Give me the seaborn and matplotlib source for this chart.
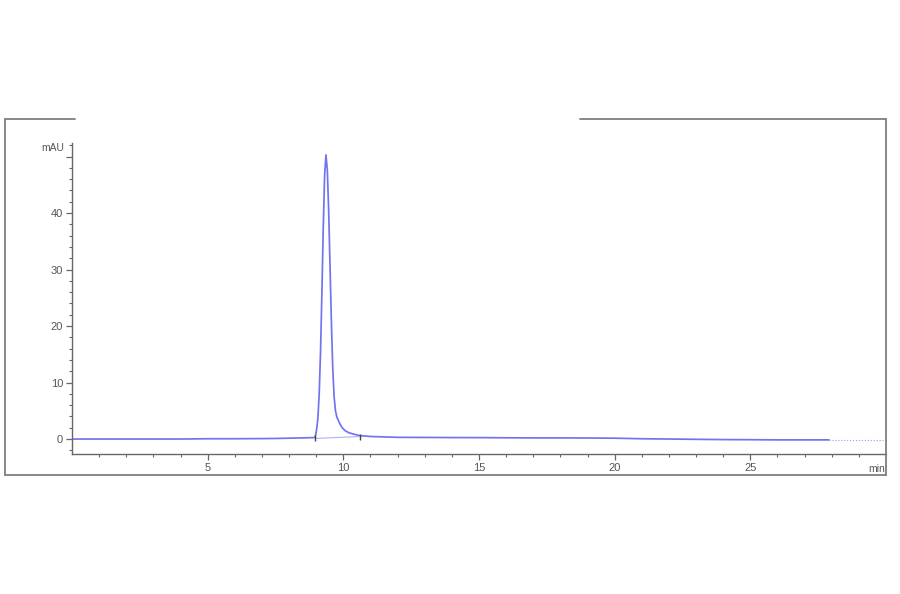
import matplotlib
matplotlib.use("Agg")
import matplotlib.pyplot as plt
from matplotlib.lines import Line2D
from matplotlib.transforms import Bbox, TransformedBbox
import seaborn as sns
import pandas as pd
import numpy as np

# ---- data ----
time_min = [0.0, 1.0, 2.0, 3.0, 4.0, 5.0, 6.0, 7.0, 7.5, 8.0, 8.5, 8.9, 8.96,
            9.01, 9.06, 9.11, 9.16, 9.21, 9.26, 9.31, 9.36, 9.41, 9.46, 9.51,
            9.56, 9.61, 9.66, 9.71, 9.76, 9.86, 9.96, 10.06, 10.21, 10.36,
            10.61, 11.0, 12.0, 13.0, 14.0, 15.0, 16.0, 17.0, 18.0, 19.0, 20.0,
            20.5, 21.0, 22.0, 23.0, 24.0, 25.0, 26.0, 27.0, 27.9]
signal_mau = [0.0, 0.0, 0.0, 0.0, 0.0, 0.05, 0.05, 0.08, 0.1, 0.15, 0.2, 0.25, 0.3,
              1.5, 3.5, 7.9, 15.4, 25.8, 37.4, 46.7, 50.3, 47.6, 40.3, 30.5,
              20.7, 12.5, 7.5, 5.0, 3.9, 2.8, 2.0, 1.5, 1.1, 0.9,
              0.6, 0.45, 0.3, 0.28, 0.26, 0.25, 0.22, 0.2, 0.2, 0.18, 0.15,
              0.1, 0.05, 0.0, -0.05, -0.1, -0.12, -0.15, -0.15, -0.15]
tail_time = [27.9, 30.0]
tail_mau = [-0.15, -0.15]
base_time = [8.96, 10.62]
base_mau = [0.1, 0.45]
event_time = [8.96, 10.62]
event_mau = [0.15, 0.3]

x_major = [5, 10, 15, 20, 25]
x_labels = ["5", "10", "15", "20", "25"]
y_major = [0, 10, 20, 30, 40, 50]
y_labels = ["0", "10", "20", "30", "40", ""]

sns.set_style("white")
plt.rcParams['font.family'] = ['Liberation Sans', 'DejaVu Sans']

W, H = 900, 594
fig = plt.figure(figsize=(9, 5.94), dpi=100)
ax = fig.add_axes([72 / W, 1 - 454 / H, (886 - 72) / W, (454 - 143) / H])

trace_color = '#7373f0'
df = pd.DataFrame({"t": time_min, "v": signal_mau})
sns.lineplot(data=df, x="t", y="v", ax=ax, color=trace_color, lw=1.25, sort=False)
sns.lineplot(x=tail_time, y=tail_mau, ax=ax, color='#9a9af5', lw=0.8, ls=':')
sns.lineplot(x=base_time, y=base_mau, ax=ax, color='#b0b0f5', lw=0.8)
ax.plot(event_time, event_mau, ls='none', marker='|', ms=5, mew=1.0, color='#444444')

ax.set_xlim(0, 30)
ax.set_ylim(-2.65, 52.4)
ax.set_xlabel("")
ax.set_ylabel("")

ax.set_xticks(x_major)
ax.set_xticklabels(x_labels)
ax.set_xticks(np.arange(1, 30, 1), minor=True)
ax.set_yticks(y_major)
ax.set_yticklabels(y_labels)
ax.set_yticks(np.arange(-2, 53, 2), minor=True)

axis_color = '#666666'
for s in ['top', 'right']:
    ax.spines[s].set_visible(False)
for s in ['left', 'bottom']:
    ax.spines[s].set_color(axis_color)
    ax.spines[s].set_linewidth(1.0)

ax.tick_params(axis='both', which='major', direction='out', length=4.5, width=0.9,
               color=axis_color, labelcolor='#555555', labelsize=8, pad=2)
ax.tick_params(axis='both', which='minor', direction='out', length=2.5, width=0.8,
               color=axis_color)
ax.tick_params(axis='x', which='both', bottom=True)
ax.tick_params(axis='y', which='both', left=True)

fig.text(64 / W, 1 - 148 / H, "mAU", ha='right', va='center', fontsize=7.5, color='#555555')
mt = fig.text(877 / W, 1 - 469 / H, "min", ha='center', va='center', fontsize=7.5,
              color='#555555')
mt.set_clip_box(TransformedBbox(Bbox([[0, 0], [885 / W, 1]]), fig.transFigure))
mt.set_clip_on(True)

frame_color = '#7f7f7f'
def fline(x0, y0, x1, y1):
    fig.add_artist(Line2D([x0 / W, x1 / W], [1 - y0 / H, 1 - y1 / H],
                          transform=fig.transFigure, color=frame_color, lw=1.3))
fline(5, 119, 5, 475)
fline(5, 475, 886, 475)
fline(886, 119, 886, 475)
fline(5, 119, 75, 119)
fline(580, 119, 886, 119)

fig.savefig("out.png", dpi=100)
